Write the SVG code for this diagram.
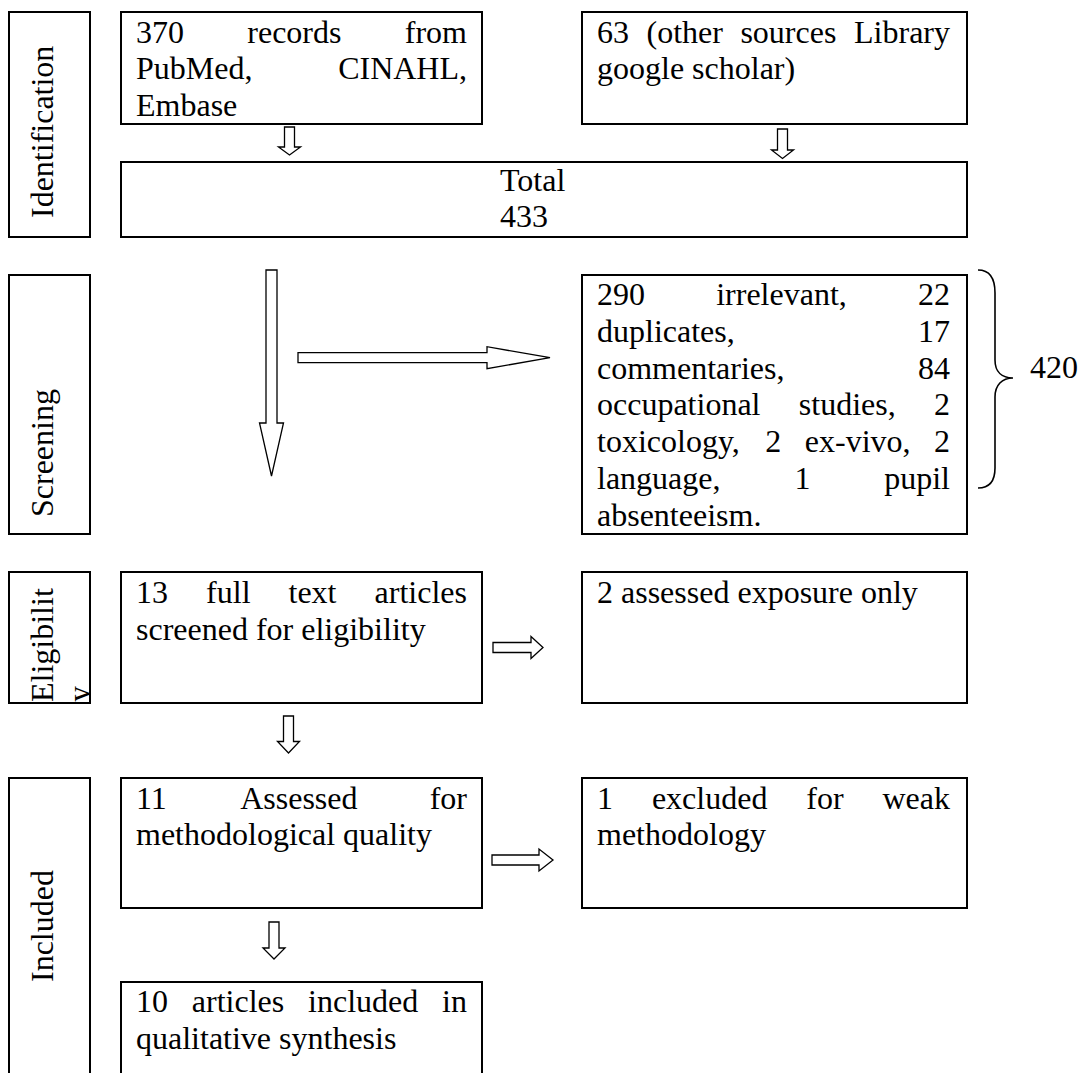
<svg xmlns="http://www.w3.org/2000/svg" width="1085" height="1073" viewBox="0 0 1085 1073">
<style>
.box{fill:#fff;stroke:#000;stroke-width:2}
.t{font-family:'Liberation Serif','Times New Roman',serif;font-size:32px;fill:#000}
.e{text-anchor:end}
.arr{fill:#fff;stroke:#000;stroke-width:1.3;stroke-linejoin:miter}
.brace{fill:none;stroke:#000;stroke-width:1.6}
</style>
<defs>
<clipPath id="clipElig"><rect x="9" y="572" width="81" height="131"/></clipPath>
</defs>
<rect width="1085" height="1073" fill="#fff"/>

<g id="stage-identification">
<rect class="box" x="9" y="12" width="81" height="225"/>
<text class="t" transform="translate(53,218) rotate(-90)">Identification</text>
</g>
<g id="stage-screening">
<rect class="box" x="9" y="275" width="81" height="259"/>
<text class="t" transform="translate(53,517) rotate(-90)">Screening</text>
</g>
<g id="stage-eligibility">
<rect class="box" x="9" y="572" width="81" height="131"/>
<g clip-path="url(#clipElig)">
<text class="t" transform="translate(53,702) rotate(-90)">Eligibilit</text>
<text class="t" transform="translate(90,702) rotate(-90)">y</text>
</g>
</g>
<g id="stage-included">
<rect class="box" x="9" y="778" width="81" height="305"/>
<text class="t" transform="translate(53,982) rotate(-90)">Included</text>
</g>

<g id="node-databases">
<rect class="box" x="121" y="12" width="361" height="112"/>
<text class="t" x="136" y="42.5">370</text>
<text class="t" x="247.3" y="42.5">records</text>
<text class="t e" x="467" y="42.5">from</text>
<text class="t" x="136" y="79.3">PubMed,</text>
<text class="t e" x="467" y="79.3">CINAHL,</text>
<text class="t" x="136" y="116.1">Embase</text>
</g>
<g id="node-other">
<rect class="box" x="582" y="12" width="385" height="112"/>
<text class="t" x="597" y="42.5">63</text>
<text class="t" x="646.5" y="42.5">(other</text>
<text class="t" x="740.4" y="42.5">sources</text>
<text class="t e" x="950" y="42.5">Library</text>
<text class="t" x="597" y="79.3">google scholar)</text>
</g>
<g id="node-total">
<rect class="box" x="121" y="162" width="846" height="75"/>
<text class="t" x="500" y="190.5">Total</text>
<text class="t" x="500" y="227.3">433</text>
</g>
<g id="node-excluded-screening">
<rect class="box" x="582" y="275" width="385" height="259"/>
<text class="t" x="597" y="305">290</text>
<text class="t" x="716.2" y="305">irrelevant,</text>
<text class="t e" x="950" y="305">22</text>
<text class="t" x="597" y="341.8">duplicates,</text>
<text class="t e" x="950" y="341.8">17</text>
<text class="t" x="597" y="378.6">commentaries,</text>
<text class="t e" x="950" y="378.6">84</text>
<text class="t" x="597" y="415.4">occupational</text>
<text class="t" x="798.8" y="415.4">studies,</text>
<text class="t e" x="950" y="415.4">2</text>
<text class="t" x="597" y="452.2">toxicology,</text>
<text class="t" x="765.3" y="452.2">2</text>
<text class="t" x="804.8" y="452.2">ex-vivo,</text>
<text class="t e" x="950" y="452.2">2</text>
<text class="t" x="597" y="489">language,</text>
<text class="t" x="794.4" y="489">1</text>
<text class="t e" x="950" y="489">pupil</text>
<text class="t" x="597" y="525.8">absenteeism.</text>
</g>
<g id="node-fulltext">
<rect class="box" x="121" y="572" width="361" height="131"/>
<text class="t" x="136" y="602.7">13</text>
<text class="t" x="206.1" y="602.7">full</text>
<text class="t" x="288.5" y="602.7">text</text>
<text class="t e" x="467" y="602.7">articles</text>
<text class="t" x="136" y="639.5">screened for eligibility</text>
</g>
<g id="node-exposure">
<rect class="box" x="582" y="572" width="385" height="131"/>
<text class="t" x="597" y="602.7">2 assessed exposure only</text>
</g>
<g id="node-quality">
<rect class="box" x="121" y="778" width="361" height="130"/>
<text class="t" x="136" y="808.5">11</text>
<text class="t" x="240.2" y="808.5">Assessed</text>
<text class="t e" x="467" y="808.5">for</text>
<text class="t" x="136" y="845.3">methodological quality</text>
</g>
<g id="node-weak">
<rect class="box" x="582" y="778" width="385" height="130"/>
<text class="t" x="597" y="808.5">1</text>
<text class="t" x="651.9" y="808.5">excluded</text>
<text class="t" x="806.3" y="808.5">for</text>
<text class="t e" x="950" y="808.5">weak</text>
<text class="t" x="597" y="845.3">methodology</text>
</g>
<g id="node-included">
<rect class="box" x="121" y="982" width="361" height="110"/>
<text class="t" x="136" y="1012">10</text>
<text class="t" x="191.8" y="1012">articles</text>
<text class="t" x="308.1" y="1012">included</text>
<text class="t e" x="467" y="1012">in</text>
<text class="t" x="136" y="1048.8">qualitative synthesis</text>
</g>

<g id="connectors">
<path class="arr" d="M284.5,127 H294.5 V147 H300.5 L289.5,155 L278.5,147 H284.5 Z"/>
<path class="arr" d="M777.5,129 H787.5 V150 H793.5 L782.5,158.5 L771.5,150 H777.5 Z"/>
<path class="arr" d="M266,270 H277 V423 H283.5 L271.5,476 L259.5,423 H266 Z"/>
<path class="arr" d="M298,352.7 H487 V346.7 L550,357.7 L487,368.7 V362.7 H298 Z"/>
<path class="arr" d="M493,642.5 H531 V636.5 L543,647.5 L531,658.5 V652.5 H493 Z"/>
<path class="arr" d="M283.5,716 H293.5 V741.5 H299.5 L288.5,753 L277.5,741.5 H283.5 Z"/>
<path class="arr" d="M492,855 H539 V849 L553,860 L539,871 V865 H492 Z"/>
<path class="arr" d="M269,922 H279 V948 H285 L274,959 L263,948 H269 Z"/>
</g>

<g id="brace-total">
<path class="brace" d="M978,270 C990,270 995,279 995,293 L995,360 C995,372 1002,378 1013,378 C1002,378 995,385 995,397 L995,468 C995,481 990,488 978,488"/>
<text class="t" x="1030" y="378">420</text>
</g>
</svg>
